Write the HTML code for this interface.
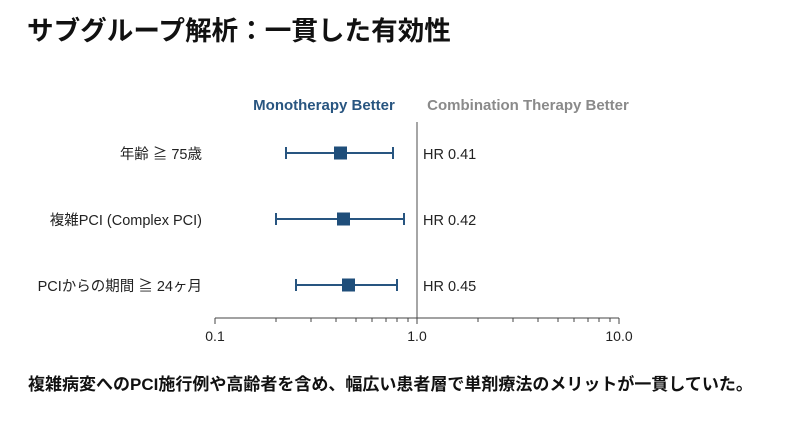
<!DOCTYPE html>
<html><head><meta charset="utf-8"><style>
body{margin:0;width:800px;height:425px;background:#fff;overflow:hidden;font-family:"Liberation Sans","Noto Sans CJK JP",sans-serif;}
</style></head><body>
<svg width="800" height="425" xmlns="http://www.w3.org/2000/svg" style="position:absolute;left:0;top:0">
<style>text{font-family:"Liberation Sans","Noto Sans CJK JP",sans-serif;}</style>
<text x="27" y="40" font-size="26.6" font-weight="bold" fill="#111">サブグループ解析：一貫した有効性</text>
<text x="324" y="110" font-size="15" font-weight="bold" fill="#285580" text-anchor="middle">Monotherapy Better</text>
<text x="528" y="110" font-size="15" font-weight="bold" fill="#8a8a8a" text-anchor="middle">Combination Therapy Better</text>
<line x1="417" y1="122" x2="417" y2="318" stroke="#888" stroke-width="1.5"/>
<g font-size="14.5" fill="#222" text-anchor="end">
<text x="202" y="159">年齢 ≧ 75歳</text>
<text x="202" y="225">複雑PCI (Complex PCI)</text>
<text x="202" y="291">PCIからの期間 ≧ 24ヶ月</text>
</g>
<g stroke="#285580" stroke-width="2" fill="#1f4e7a">
<line x1="286" y1="153" x2="393" y2="153"/><line x1="286" y1="147" x2="286" y2="159"/><line x1="393" y1="147" x2="393" y2="159"/>
<rect x="334" y="146.5" width="13" height="13" stroke="none"/>
<line x1="276" y1="219" x2="404" y2="219"/><line x1="276" y1="213" x2="276" y2="225"/><line x1="404" y1="213" x2="404" y2="225"/>
<rect x="337" y="212.5" width="13" height="13" stroke="none"/>
<line x1="296" y1="285" x2="397" y2="285"/><line x1="296" y1="279" x2="296" y2="291"/><line x1="397" y1="279" x2="397" y2="291"/>
<rect x="342" y="278.5" width="13" height="13" stroke="none"/>
</g>
<g font-size="14.5" fill="#222">
<text x="423" y="159">HR 0.41</text>
<text x="423" y="225">HR 0.42</text>
<text x="423" y="291">HR 0.45</text>
</g>
<g stroke="#444" stroke-width="1">
<line x1="215" y1="318" x2="619" y2="318"/>
<line x1="215" y1="318" x2="215" y2="324"/><line x1="417" y1="318" x2="417" y2="324"/><line x1="619" y1="318" x2="619" y2="324"/>
<line x1="276" y1="318" x2="276" y2="322"/><line x1="311" y1="318" x2="311" y2="322"/><line x1="336" y1="318" x2="336" y2="322"/><line x1="356" y1="318" x2="356" y2="322"/><line x1="372" y1="318" x2="372" y2="322"/><line x1="386" y1="318" x2="386" y2="322"/><line x1="397" y1="318" x2="397" y2="322"/><line x1="408" y1="318" x2="408" y2="322"/>
<line x1="478" y1="318" x2="478" y2="322"/><line x1="513" y1="318" x2="513" y2="322"/><line x1="538" y1="318" x2="538" y2="322"/><line x1="558" y1="318" x2="558" y2="322"/><line x1="574" y1="318" x2="574" y2="322"/><line x1="588" y1="318" x2="588" y2="322"/><line x1="599" y1="318" x2="599" y2="322"/><line x1="610" y1="318" x2="610" y2="322"/>
</g>
<g font-size="14" fill="#222" text-anchor="middle">
<text x="215" y="341">0.1</text><text x="417" y="341">1.0</text><text x="619" y="341">10.0</text>
</g>
<text x="28" y="390" font-size="17" font-weight="bold" fill="#111">複雑病変へのPCI施行例や高齢者を含め、幅広い患者層で単剤療法のメリットが一貫していた。</text>
</svg>
</body></html>
